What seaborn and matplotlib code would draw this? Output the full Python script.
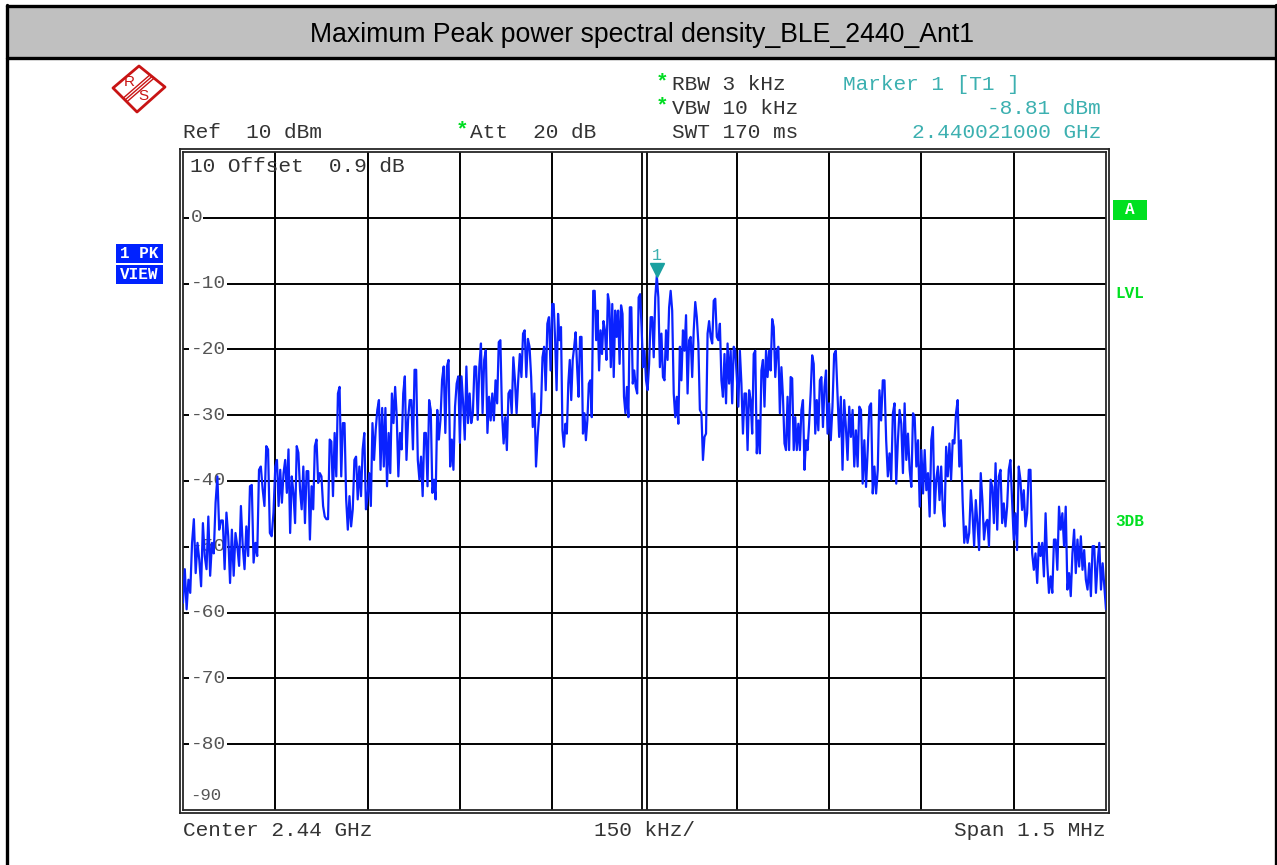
import numpy as np
import pandas as pd
import seaborn as sns
import matplotlib.pyplot as plt
from matplotlib import patches, lines
from matplotlib.transforms import offset_copy

# trace, one list per 150 kHz division (dBm)
div1 = [-58.5, -53.4, -59.5, -55, -57, -49.4, -45.8, -54, -49.4, -52, -56, -46.4, -51.4, -53.4, -45.4,
        -54.4, -49.4, -51, -43.3, -39.3, -47.4, -46, -46, -53.4, -44.8, -48.4, -55.5, -47.4, -54.4, -47.9,
        -49.9, -52.9, -43.8, -49.9, -53.4, -46.9, -51.4, -40.8, -40.6, -52.4, -49.4, -51.4, -38.3, -37.8,
        -41.2, -43.8, -34.7, -35.2, -47.9, -48.4, -44.8]
div2 = [-37.8, -36.8, -43.8, -38.3, -43.3, -38.8, -36.8, -41.8, -35.2, -47.9, -39.3, -41.8, -46.4, -34.7,
        -35.7, -41.3, -44.3, -37.8, -46.4, -38.5, -38.5, -48.9, -40.8, -44.3, -34.7, -33.7, -40.3, -38.8,
        -39.3, -43.8, -45.4, -45.8, -45.8, -33.7, -34, -42.3, -32.7, -39.3, -26.7, -25.7, -39.3, -31.2,
        -31.2, -42.8, -47.4, -42.3, -46.9, -44.3, -36.8, -36.3, -42.8, -37.8, -42.3, -35.2, -32.7, -44.3]
div3 = [-42.3, -38.8, -43.8, -31.2, -36.8, -32.2, -29.2, -27.7, -38.3, -28.9, -37.8, -28.9, -40.8, -32.7,
        -38.8, -26.7, -31.2, -25.7, -30.2, -39.3, -32.7, -35.2, -26.7, -24.1, -36.8, -30.7, -27.7, -27.7,
        -35.2, -23.1, -23.1, -36.8, -39.8, -36.3, -42.3, -32.7, -32.7, -40.8, -27.7, -29.2, -41.8, -39.8,
        -42.8, -29.2, -33.7, -30.7, -24.6, -22.6, -32.7, -22.6, -21.6, -37.8, -33.7, -38.3, -28.7, -25.2,
        -24.1]
div4 = [-34.2, -24.1, -28.2, -33.7, -22.6, -31.2, -26.7, -31.2, -29.7, -22.6, -22.6, -30.7, -22.6, -19.1,
        -29.7, -21.6, -20.1, -32.7, -27.2, -30.8, -26.7, -30.8, -24.7, -28.2, -18.9, -18.6, -29.7, -34.3,
        -30.3, -35.3, -26.7, -26.2, -29.7, -21.2, -24.7, -29.7, -24.7, -20.7, -24.2, -17.6, -17.1, -24.2,
        -18.4, -19.6, -24.2, -31.8, -26.7, -37.8, -33.3, -29.7, -29.7, -21.2, -19.6, -26.2, -16.1, -15.1,
        -23.2]
div5 = [-13.1, -13.1, -18.6, -26.2, -14.6, -18.6, -16.6, -32.3, -34.8, -31.3, -32.8, -25.2, -21.6, -27.7,
        -21.6, -19.6, -17.4, -22.7, -27.2, -18.1, -18.1, -32.8, -29.7, -33.8, -30.8, -25.2, -24.7, -30.3,
        -11.1, -11.1, -18.6, -14.1, -23.2, -17.1, -20.7, -15.7, -17.1, -21.6, -11.6, -13.1, -22.7, -13.1,
        -24.2, -14.1, -18.1, -14.1, -22.2, -13.3, -14.6, -27.2, -29.7, -25.7, -30.3, -13.6, -13.6, -25.2,
        -23.2, -25.7, -26.7, -12.1, -11.6, -16.6, -22.7]
div6 = [-20.2, -24.7, -26.2, -22.2, -15.1, -15.1, -21.2, -12.1, -8.81, -12.1, -22.7, -17.6, -24.2, -24.7,
        -17.1, -21.6, -13.6, -11.1, -14.1, -26.7, -30.3, -27.2, -31.3, -19.6, -24.7, -17.1, -20.2, -14.8,
        -26.7, -18.6, -18.1, -24.2, -17.1, -12.8, -15.1, -19.1, -29.2, -29.7, -36.8, -33.3, -32.8, -17.6,
        -15.7, -18.1, -19.1, -12.6, -12.3, -18.1, -18.6, -16.1, -24.7, -27.2, -20.7, -28.2, -19.1, -25.2,
        -20.2, -28.2, -19.6, -20.2]
div7 = [-24.2, -28.7, -20.2, -25.2, -32.8, -26.7, -26.7, -35.3, -26.2, -27.7, -32.8, -20.7, -20.2, -35.8,
        -30.8, -35.8, -23.2, -21.6, -28.7, -20.2, -24.2, -20.2, -23.2, -15.4, -16.6, -24.2, -20.2, -19.6,
        -29.7, -22.7, -27.2, -34.3, -35.3, -27.2, -35.3, -24.2, -24.4, -35.3, -30.3, -35.3, -31.3, -35.3,
        -29.2, -27.7, -38.3, -33.8, -35.3, -31.3, -26.7, -20.9, -22.2, -32.8, -27.7, -32.3, -24.7, -24.2,
        -31.8, -25.7, -23.2, -32.8]
div8 = [-28.2, -33.8, -28.7, -20.7, -20.2, -26.7, -33.3, -27.2, -38.3, -27.7, -31.8, -36.8, -28.7, -33.3,
        -29.2, -37.8, -32.3, -37.8, -28.7, -29.2, -40.4, -33.8, -40.9, -35.3, -28.7, -28.2, -41.9, -37.8,
        -41.9, -38.3, -26.2, -30.8, -24.7, -24.7, -33.8, -39.3, -35.8, -39.8, -29.7, -28.2, -40.4, -33.8,
        -29.2, -31.3, -38.8, -28.2, -36.8, -32.8, -38.3, -40.9, -29.7, -30.3, -37.8, -33.8, -43.9]
div9 = [-35.3, -41.9, -35.3, -41.4, -38.8, -45.4, -33.8, -31.8, -44.9, -39.8, -37.8, -42.9, -37.8, -44.4,
        -46.9, -34.8, -39.3, -34.3, -39.8, -33.8, -34.3, -29.7, -27.7, -37.8, -33.8, -42.9, -49.4, -46.9,
        -49.4, -47.9, -41.4, -44.9, -49.9, -42.9, -46.4, -50.5, -38.8, -42.9, -48.9, -46.4, -45.9, -49.9,
        -39.8, -40.9, -46.4, -37.3, -47.4, -39.3, -38.3, -46.4, -43.4, -46.9, -43.9, -38.3, -36.8, -42.9]
div10 = [-48.9, -44.9, -50.5, -37.8, -39.8, -44.4, -41.4, -46.9, -44.9, -38.3, -38.3, -51.0, -53.5, -51.0,
         -55.5, -49.4, -51.4, -49.4, -54.5, -44.9, -52.5, -57.0, -54.5, -57.0, -48.9, -48.9, -53.5, -43.9,
         -47.4, -44.9, -49.9, -43.9, -56.5, -54.0, -57.5, -51.0, -47.4, -54.0, -48.9, -53.0, -48.4, -53.5,
         -50.5, -55.0, -56.5, -52.5, -57.5, -49.9, -49.9, -57.0, -52.5, -49.4, -56.5, -52.5, -56.0, -59.5]
divisions = [div1, div2, div3, div4, div5, div6, div7, div8, div9, div10]

span_khz = 1500
div_khz = 150
ref_level = 10
y_labels = ["0", "-10", "-20", "-30", "-40", "-50", "-60", "-70", "-80"]
y_levels = [0, -10, -20, -30, -40, -50, -60, -70, -80]

title = "Maximum Peak power spectral density_BLE_2440_Ant1"
marker_level = "-8.81 dBm"
marker_freq = "2.440021000 GHz"
blue = "#0a22ff"
teal = "#3cb0b0"
green = "#00dd22"
grey_txt = "#333333"
mono = ["Liberation Mono", "DejaVu Sans Mono"]

freqs = []
for i, lv in enumerate(divisions):
    start = -span_khz / 2 + i * div_khz
    freqs.append(np.linspace(start, start + div_khz, len(lv), endpoint=(i == len(divisions) - 1)))
df = pd.DataFrame({"freq": np.concatenate(freqs), "level": np.concatenate(divisions)})

sns.set_style("white")
plt.rcParams["font.family"] = mono

W, H = 1277, 865
fig = plt.figure(figsize=(W / 100, H / 100), dpi=100)


def fx(x):
    return x / W


def fy(y):
    return 1 - y / H


# outer frame and title bar
fig.patches.append(patches.Rectangle((fx(7), fy(58)), fx(1276) - fx(7), fy(7) - fy(58),
                                     transform=fig.transFigure, facecolor="#c0c0c0", edgecolor="none"))
for xs, ys in [([7, 7], [5, 865]), ([1276, 1276], [5, 865]), ([7, 1276], [6, 6]), ([7, 1276], [58, 58])]:
    fig.add_artist(lines.Line2D([fx(v) for v in xs], [fy(v) for v in ys], transform=fig.transFigure,
                               color="black", lw=2.4))
fig.text(fx(642), fy(35), title, ha="center", va="center", fontsize=19.2,
         family=["Liberation Sans", "DejaVu Sans"], color="black")

# plot area
left, right, top, bottom = 183, 1106, 152, 810
rect = [fx(left), fy(bottom), fx(right) - fx(left), fy(top) - fy(bottom)]
frame = fig.add_axes([rect[0] - 3 / W, rect[1] - 3 / H, rect[2] + 6 / W, rect[3] + 6 / H], zorder=0)
frame.set_xticks([])
frame.set_yticks([])
for s in frame.spines.values():
    s.set_linewidth(1.3)
ax = fig.add_axes(rect, zorder=1)
ax.set_xlim(-span_khz / 2, span_khz / 2)
ax.set_ylim(ref_level - 100, ref_level)
ax.set_xticks([])
ax.set_yticks([])
for s in ax.spines.values():
    s.set_linewidth(1.3)

for lv in y_levels:
    ax.axhline(lv, color="black", lw=1.4, zorder=1)
for k in range(1, 10):
    f = -span_khz / 2 + k * div_khz
    if f == 0:
        for dx in (-1.5, 1.5):
            ax.plot([f, f], [0, 1], color="black", lw=1.3, zorder=1,
                    transform=offset_copy(ax.get_xaxis_transform(), fig=fig, x=dx, y=0, units="points"))
    else:
        ax.axvline(f, color="black", lw=1.4, zorder=1)

for lab, lv in zip(y_labels, y_levels):
    ax.text(0.008, lv, lab, transform=ax.get_yaxis_transform(), ha="left", va="center",
            fontsize=14, color="#555555", zorder=2,
            bbox=dict(facecolor="white", edgecolor="none", pad=1.0))
fs = 15.2
ax.text(0.008, 0.978, "10 Offset  0.9 dB", transform=ax.transAxes, ha="left", va="center",
        fontsize=fs, color=grey_txt, zorder=2)
ax.text(0.008, 0.022, "-90", transform=ax.transAxes, ha="left", va="center",
        fontsize=12.5, color="#555555", zorder=2)

sns.lineplot(data=df, x="freq", y="level", color=blue, lw=1.6, estimator=None, ax=ax, zorder=3)
ax.set_xlabel("")
ax.set_ylabel("")

# marker 1 on the peak
pk = df.loc[df["level"].idxmax()]
ax.plot(pk["freq"], pk["level"], marker="v", ms=10, color="#1aa0a0", mec="#1aa0a0", zorder=4,
        transform=offset_copy(ax.transData, fig=fig, x=0, y=4, units="points"), clip_on=False)
ax.text(pk["freq"], pk["level"], "1", ha="center", va="bottom", fontsize=12, color=teal,
        transform=offset_copy(ax.transData, fig=fig, x=0, y=9, units="points"))

# instrument settings text
fig.text(fx(183), fy(132), "Ref  10 dBm", fontsize=fs, color=grey_txt, va="center")
fig.text(fx(456), fy(130), "*", fontsize=fs, color=green, va="center", weight="bold")
fig.text(fx(470), fy(132), "Att  20 dB", fontsize=fs, color=grey_txt, va="center")
fig.text(fx(656), fy(82), "*", fontsize=fs, color=green, va="center", weight="bold")
fig.text(fx(672), fy(84), "RBW 3 kHz", fontsize=fs, color=grey_txt, va="center")
fig.text(fx(656), fy(106), "*", fontsize=fs, color=green, va="center", weight="bold")
fig.text(fx(672), fy(108), "VBW 10 kHz", fontsize=fs, color=grey_txt, va="center")
fig.text(fx(672), fy(132), "SWT 170 ms", fontsize=fs, color=grey_txt, va="center")
fig.text(fx(843), fy(84), "Marker 1 [T1 ]", fontsize=fs, color=teal, va="center")
fig.text(fx(1101), fy(108), marker_level, fontsize=fs, color=teal, va="center", ha="right")
fig.text(fx(1101), fy(132), marker_freq, fontsize=fs, color=teal, va="center", ha="right")
fig.text(fx(183), fy(830), "Center 2.44 GHz", fontsize=fs, color=grey_txt, va="center")
fig.text(fx(645), fy(830), f"{div_khz} kHz/", fontsize=fs, color=grey_txt, va="center", ha="center")
fig.text(fx(1106), fy(830), "Span 1.5 MHz", fontsize=fs, color=grey_txt, va="center", ha="right")

# side annotations
for y0, lab in [(244, "1 PK"), (265, "VIEW")]:
    fig.patches.append(patches.Rectangle((fx(116), fy(y0 + 19)), fx(163) - fx(116), fy(y0) - fy(y0 + 19),
                                         transform=fig.transFigure, facecolor="#0022ff", edgecolor="none"))
    fig.text(fx(139.5), fy(y0 + 9.5), lab, fontsize=11.5, weight="bold", color="white", ha="center",
             va="center")
fig.patches.append(patches.Rectangle((fx(1113), fy(220)), fx(1147) - fx(1113), fy(200) - fy(220),
                                     transform=fig.transFigure, facecolor="#00e020", edgecolor="none"))
fig.text(fx(1130), fy(210), "A", fontsize=11.5, weight="bold", color="white", ha="center", va="center")
fig.text(fx(1130), fy(293), "LVL", fontsize=11.5, weight="bold", color="#00e020", ha="center", va="center")
fig.text(fx(1130), fy(522), "3DB", fontsize=11.5, weight="bold", color="#00e020", ha="center", va="center")

# R&S logo
red = "#c81414"
diamond = [(139, 66), (165, 87), (137, 112), (113, 88)]
fig.patches.append(patches.Polygon([(fx(a), fy(b)) for a, b in diamond], closed=True, fill=False,
                                   edgecolor=red, lw=2.0, joinstyle="round", transform=fig.transFigure))
for d in (-2.6, 0, 2.6):
    x0, y0 = 125 + d * 0.66, 100 + d * 0.75
    x1, y1 = 152 + d * 0.66, 76.5 + d * 0.75
    fig.add_artist(lines.Line2D([fx(x0), fx(x1)], [fy(y0), fy(y1)], transform=fig.transFigure,
                                color=red, lw=1.0))
fig.text(fx(129), fy(82), "R", fontsize=11, color=red, ha="center", va="center",
         family=["Liberation Sans", "DejaVu Sans"])
fig.text(fx(143.5), fy(96), "S", fontsize=11, color=red, ha="center", va="center",
         family=["Liberation Sans", "DejaVu Sans"])

fig.savefig("out.png", dpi=100, facecolor="white")
